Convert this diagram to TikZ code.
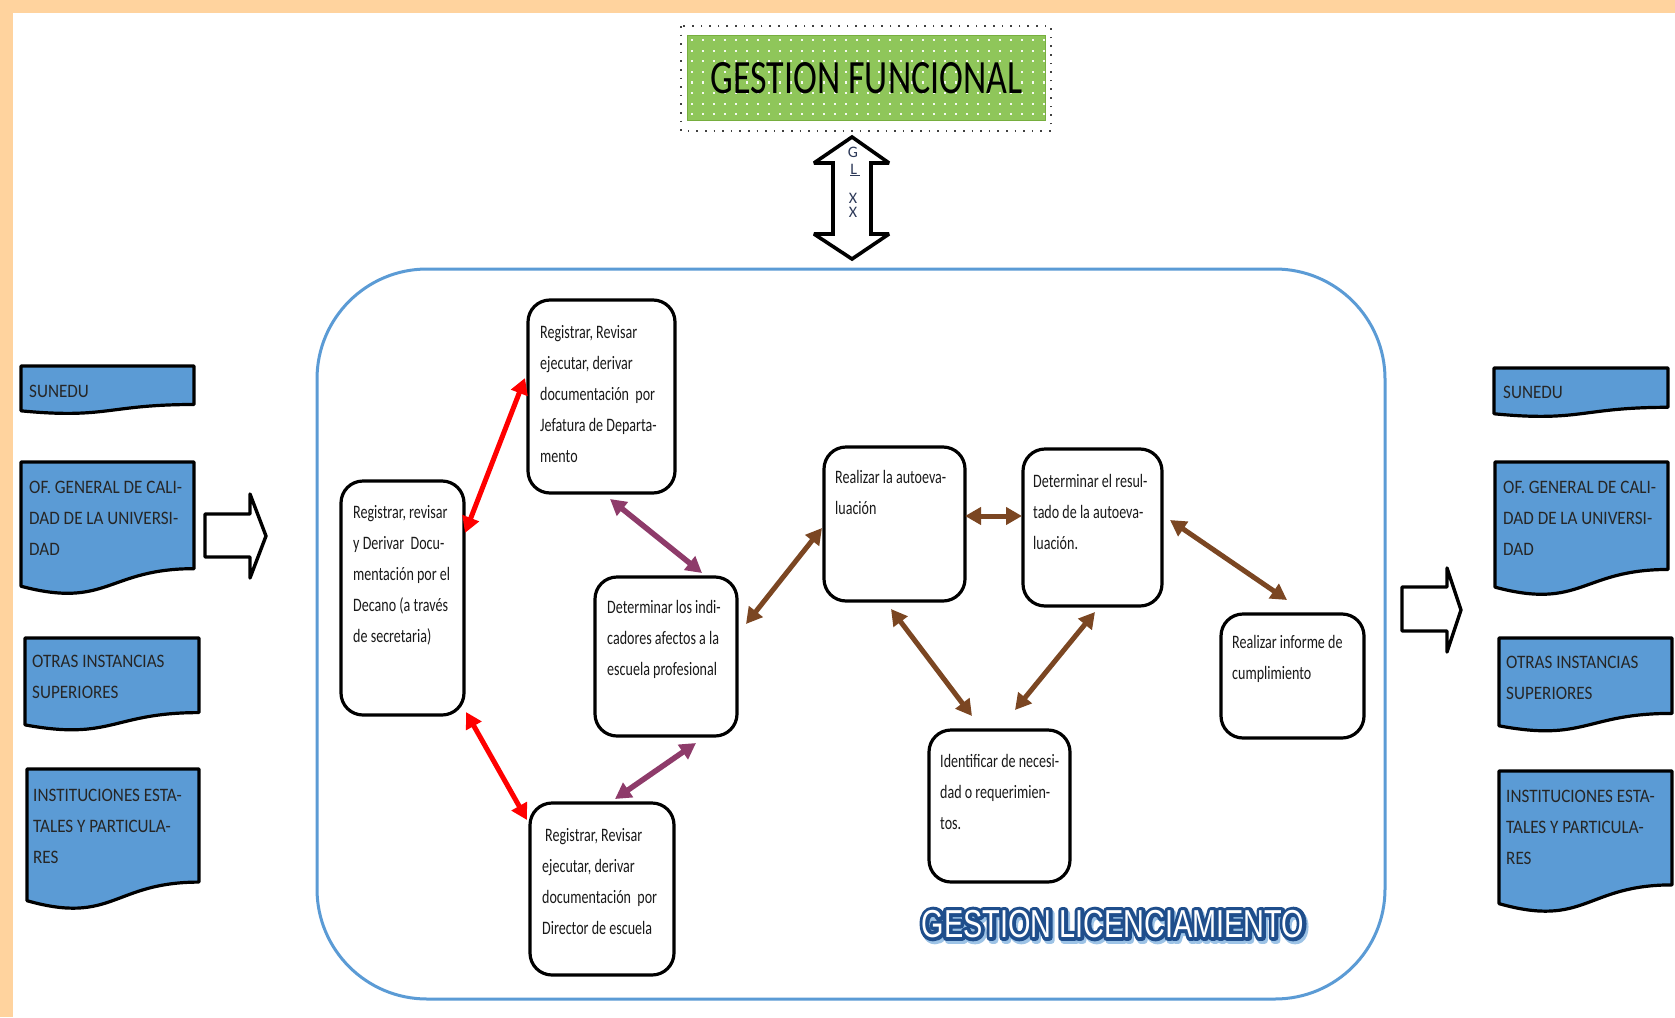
\documentclass[tikz,border=0pt]{standalone}
\usepackage{fontspec}
\setmainfont{Carlito}
\newfontfamily\boxfont[FakeStretch=0.74]{Carlito}
\newfontfamily\docfont[FakeStretch=0.9]{Carlito}
\newfontfamily\licfont[FakeStretch=0.74]{Liberation Sans}
\usetikzlibrary{arrows.meta,calc}

\definecolor{peach}{HTML}{FFD39E}
\definecolor{frameblue}{HTML}{5B9BD5}
\definecolor{docblue}{HTML}{5B9BD5}
\definecolor{plum}{HTML}{8E3B6A}
\definecolor{umber}{HTML}{7B4622}
\definecolor{leaf}{HTML}{8FC65A}
\definecolor{leafedge}{HTML}{76AE3E}
\definecolor{licblue}{HTML}{1F4E8C}
\definecolor{licshadow}{HTML}{9DC3E6}
\definecolor{ink}{HTML}{1A1A1A}
\definecolor{navy}{HTML}{2E3A59}

\tikzset{
  procbox/.style={draw=black, line width=3.2pt, rounded corners=22pt, fill=white,
    anchor=north west, inner sep=0pt, outer sep=0pt},
  proctext/.style={anchor=north west, inner sep=0pt, align=left, text=ink,
    font=\boxfont\fontsize{19}{31}\selectfont},
  doctext/.style={anchor=north west, inner sep=0pt, align=left, text=black!85,
    font=\docfont\fontsize{19}{31}\selectfont},
  docshape/.style={draw=black, line width=3.2pt, fill=docblue, line join=round},
  hollow/.style={draw=black, line width=3.4pt, fill=white, line join=round},
  link/.style={line width=5pt,
    {Triangle[length=16pt,width=17pt]}-{Triangle[length=16pt,width=17pt]}},
  redlink/.style={link, red},
  plumlink/.style={link, plum, line width=5.5pt},
  brownlink/.style={link, umber},
  axislabel/.style={inner sep=0pt, text=navy, font=\fontsize{16}{16}\selectfont},
  licstyle/.style={inner sep=0pt, font=\licfont\fontsize{39}{39}\selectfont},
}

% flowchart "document" outline: x, y (top left), width, height
\newcommand\docpath[4]{%
  \pgfmathsetmacro\dcA{#1+#3}\pgfmathsetmacro\dcB{#2+0.802*#4}%
  \pgfmathsetmacro\dcC{#1+0.5*#3}\pgfmathsetmacro\dcD{#2+1.107*#4}%
  \pgfmathsetmacro\dcE{#2+0.934*#4}%
  \path[docshape] (#1,#2) -- (\dcA,#2) -- (\dcA,\dcB)
    .. controls (\dcC,\dcB) and (\dcC,\dcD) .. (#1,\dcE) -- cycle;}

% lettering drawn as filled and stroked glyphs (text render mode 2)
\newcommand\licword{GESTION LICENCIAMIENTO}
\newcommand\licstroked[1]{%
  \special{pdf:literal direct 2 Tr #1 w 1 j}\licword\special{pdf:literal direct 0 Tr 1 w 0 j}}

\begin{document}
\begin{tikzpicture}[x=1pt,y=-1pt]
\useasboundingbox (0,0) rectangle (1675,1017);
\fill[white] (0,0) rectangle (1675,1017);

% page edge bands
\fill[peach] (0,0) rectangle (1675,13);
\fill[peach] (0,0) rectangle (13,1017);

% ---- top block: GESTION FUNCIONAL ----
\draw[black!75, line width=1.6pt, dash pattern=on 1.6pt off 7pt] (681,26) rectangle (1051,131);
\node[draw=leafedge, line width=1.2pt, fill=leaf, minimum width=358pt, minimum height=85pt,
      anchor=north west, inner sep=0pt] (gf) at (687,35) {};
\foreach \i in {0,...,32}
  \foreach \j in {0,...,7}
    \fill[white!90!leaf] ({692+11*\i-1.1},{40+10.6*\j-1.1}) rectangle ++(2.2,2.2);
\node[inner sep=0pt] (gftext) at (866.5,78) {\resizebox{312pt}{31pt}{GESTION FUNCIONAL}};

% vertical double block arrow
\draw[hollow, line width=3.6pt, line join=miter, miter limit=3] (852,137) -- (889,163) -- (871,163)
  -- (871,234) -- (889,234) -- (852,259) -- (814,234) -- (833,234) -- (833,163) -- (814,163) -- cycle;
\node[axislabel] (lg) at (853,152) {G};
\node[axislabel] (ll) at (855,170) {\underline{L\,}};
\node[axislabel] (lx1) at (853,198) {X};
\node[axislabel] (lx2) at (853,212) {X};

% ---- main frame ----
\draw[frameblue, line width=3pt, rounded corners=110pt] (317,269) rectangle (1385,999);

% ---- side documents (left) ----
\docpath{21}{366}{173}{48}
\node[doctext] (sunL) at (29,375.3) {\strut SUNEDU};
\docpath{21}{462}{173}{133}
\node[doctext] (ofL) at (29,471.3) {\strut OF. GENERAL DE CALI-\\DAD DE LA UNIVERSI-\\DAD};
\docpath{25}{638}{174}{93}
\node[doctext] (otL) at (32,645.3) {\strut OTRAS INSTANCIAS\\SUPERIORES};
\docpath{27}{769}{172}{141}
\node[doctext] (inL) at (33,779.3) {\strut INSTITUCIONES ESTA-\\TALES Y PARTICULA-\\RES};

% ---- side documents (right) ----
\docpath{1494}{368}{174}{49}
\node[doctext] (sunR) at (1503,376.3) {\strut SUNEDU};
\docpath{1495}{462}{173}{134}
\node[doctext] (ofR) at (1503,471.3) {\strut OF. GENERAL DE CALI-\\DAD DE LA UNIVERSI-\\DAD};
\docpath{1499}{638}{173}{94}
\node[doctext] (otR) at (1506,646.3) {\strut OTRAS INSTANCIAS\\SUPERIORES};
\docpath{1499}{771}{173}{142}
\node[doctext] (inR) at (1506,780.3) {\strut INSTITUCIONES ESTA-\\TALES Y PARTICULA-\\RES};

% hollow block arrows
\draw[hollow] (205,514) -- (250,514) -- (250,494) -- (266,536) -- (250,578) -- (250,557)
  -- (205,557) -- cycle;
\draw[hollow] (1402,587) -- (1447,587) -- (1447,568) -- (1461,610) -- (1447,652) -- (1447,631)
  -- (1402,631) -- cycle;

% ---- process boxes ----
\node[procbox, minimum width=123pt, minimum height=234pt] (A) at (341,481) {};
\node[procbox, minimum width=147pt, minimum height=193pt] (B) at (528,300) {};
\node[procbox, minimum width=144pt, minimum height=172pt] (C) at (530,803) {};
\node[procbox, minimum width=142pt, minimum height=159pt] (D) at (595,577) {};
\node[procbox, minimum width=141pt, minimum height=154pt] (E) at (824,447) {};
\node[procbox, minimum width=139pt, minimum height=157pt] (F) at (1023,449) {};
\node[procbox, minimum width=141pt, minimum height=152pt] (G) at (929,730) {};
\node[procbox, minimum width=143pt, minimum height=124pt] (H) at (1221,614) {};

\node[proctext] (At) at (353,496.3) {\strut Registrar, revisar\\y Derivar~ Docu-\\mentación por el\\Decano (a través\\de secretaria)};
\node[proctext] (Bt) at (540,316.3) {\strut Registrar, Revisar\\ejecutar, derivar\\documentación~ por\\Jefatura de Departa-\\mento};
\node[proctext] (Ct) at (542,819.3) {\strut\hspace{3pt}Registrar, Revisar\\ejecutar, derivar\\documentación~ por\\Director de escuela};
\node[proctext] (Dt) at (607,591.3) {\strut Determinar los indi-\\cadores afectos a la\\escuela profesional};
\node[proctext] (Et) at (835,461.3) {\strut Realizar la autoeva-\\luación};
\node[proctext] (Ft) at (1033,465.3) {\strut Determinar el resul-\\tado de la autoeva-\\luación.};
\node[proctext] (Gt) at (940,745.3) {\strut Identificar de necesi-\\dad o requerimien-\\tos.};
\node[proctext] (Ht) at (1232,626.3) {\strut Realizar informe de\\cumplimiento};

% ---- connectors ----
\draw[redlink] ($(A.north east)+(1,52)$) -- ($(B.north west)+(-3,78)$);
\draw[redlink] ($(A.south east)+(2,-3)$) -- ($(C.north west)+(-3,17)$);
\draw[plumlink] ($(B.south west)+(82,6)$) -- ($(D.north west)+(107,-4)$);
\draw[plumlink] ($(C.north west)+(85,-4)$) -- ($(D.south west)+(101,7)$);
\draw[brownlink] ($(D.north east)+(9,47)$) -- ($(E.north west)+(-2,81)$);
\draw[brownlink] ($(E.north east)+(0,69)$) -- ($(F.north west)+(-1,67)$);
\draw[brownlink] ($(E.south west)+(67,8)$) -- ($(G.north west)+(43,-14)$);
\draw[brownlink] ($(F.south west)+(72,6)$) -- ($(G.north west)+(86,-20)$);
\draw[brownlink] ($(F.north east)+(8,71)$) -- ($(H.north west)+(66,-14)$);

% ---- GESTION LICENCIAMIENTO: shadow, thick blue outline, white letters ----
\coordinate (licpos) at (1113,924);
\node[licstyle, text=licshadow] (licshade) at ($(licpos)+(2,3)$) {\licstroked{7}};
\node[licstyle, text=licblue] (licrim) at (licpos) {\licstroked{7}};
\node[licstyle, text=white] (lic) at (licpos) {\licword};

\end{tikzpicture}
\end{document}
